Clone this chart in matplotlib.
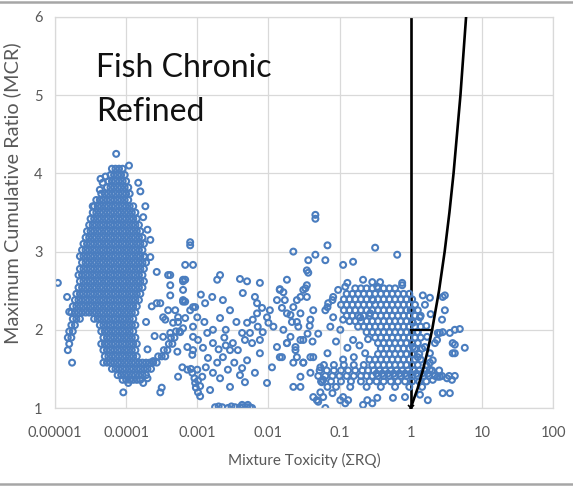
import matplotlib
matplotlib.use('Agg')

import matplotlib.pyplot as plt
from matplotlib.lines import Line2D
import numpy as np

plt.rcParams['font.family'] = ['Lato', 'DejaVu Sans']

# ---- data (x stored as log10 of mixture toxicity, y = MCR) ----

# dense cluster at very low toxicity: one row per MCR level
blob_row_mcr = [4.06, 3.98, 3.90, 3.82, 3.74, 3.66, 3.58, 3.50, 3.42, 3.34,
                3.26, 3.18, 3.10, 3.02, 2.94, 2.86, 2.78, 2.70, 2.62, 2.54,
                2.46, 2.38, 2.30, 2.22, 2.14, 2.06, 1.98, 1.90, 1.82, 1.74,
                1.66, 1.58, 1.50, 1.42, 1.36]
blob_row_lrq = [
    [-4.20, -4.15, -4.10, -4.05],
    [-4.22, -4.17, -4.12, -4.07, -4.02],
    [-4.25, -4.20, -4.15, -4.10, -4.05, -4.00],
    [-4.27, -4.22, -4.17, -4.12, -4.07, -4.02, -3.97],
    [-4.35, -4.30, -4.25, -4.20, -4.15, -4.10, -4.05, -4.00, -3.95],
    [-4.42, -4.37, -4.32, -4.27, -4.22, -4.17, -4.12, -4.07, -4.02, -3.97],
    [-4.45, -4.40, -4.35, -4.30, -4.25, -4.20, -4.15, -4.10, -4.05, -4.00, -3.95, -3.90],
    [-4.47, -4.42, -4.37, -4.32, -4.27, -4.22, -4.17, -4.12, -4.07, -4.02, -3.97, -3.92,
     -3.87],
    [-4.50, -4.45, -4.40, -4.35, -4.30, -4.25, -4.20, -4.15, -4.10, -4.05, -4.00, -3.95,
     -3.90, -3.85],
    [-4.52, -4.47, -4.42, -4.37, -4.32, -4.27, -4.22, -4.17, -4.12, -4.07, -4.02, -3.97,
     -3.92, -3.87, -3.82],
    [-4.55, -4.50, -4.45, -4.40, -4.35, -4.30, -4.25, -4.20, -4.15, -4.10, -4.05, -4.00,
     -3.95, -3.90, -3.85, -3.80],
    [-4.57, -4.52, -4.47, -4.42, -4.37, -4.32, -4.27, -4.22, -4.17, -4.12, -4.07, -4.02,
     -3.97, -3.92, -3.87, -3.82, -3.77],
    [-4.60, -4.55, -4.50, -4.45, -4.40, -4.35, -4.30, -4.25, -4.20, -4.15, -4.10, -4.05,
     -4.00, -3.95, -3.90, -3.85, -3.80, -3.75],
    [-4.62, -4.57, -4.52, -4.47, -4.42, -4.37, -4.32, -4.27, -4.22, -4.17, -4.12, -4.07,
     -4.02, -3.97, -3.92, -3.87, -3.82, -3.77],
    [-4.65, -4.60, -4.55, -4.50, -4.45, -4.40, -4.35, -4.30, -4.25, -4.20, -4.15, -4.10,
     -4.05, -4.00, -3.95, -3.90, -3.85, -3.80, -3.75],
    [-4.62, -4.57, -4.52, -4.47, -4.42, -4.37, -4.32, -4.27, -4.22, -4.17, -4.12, -4.07,
     -4.02, -3.97, -3.92, -3.87, -3.82, -3.77, -3.72],
    [-4.65, -4.60, -4.55, -4.50, -4.45, -4.40, -4.35, -4.30, -4.25, -4.20, -4.15, -4.10,
     -4.05, -4.00, -3.95, -3.90, -3.85, -3.80, -3.75],
    [-4.67, -4.62, -4.57, -4.52, -4.47, -4.42, -4.37, -4.32, -4.27, -4.22, -4.17, -4.12,
     -4.07, -4.02, -3.97, -3.92, -3.87, -3.82, -3.77],
    [-4.65, -4.60, -4.55, -4.50, -4.45, -4.40, -4.35, -4.30, -4.25, -4.20, -4.15, -4.10,
     -4.05, -4.00, -3.95, -3.90, -3.85, -3.80, -3.75],
    [-4.67, -4.62, -4.57, -4.52, -4.47, -4.42, -4.37, -4.32, -4.27, -4.22, -4.17, -4.12,
     -4.07, -4.02, -3.97, -3.92, -3.87, -3.82, -3.77],
    [-4.70, -4.65, -4.60, -4.55, -4.50, -4.45, -4.40, -4.35, -4.30, -4.25, -4.20, -4.15,
     -4.10, -4.05, -4.00, -3.95, -3.90, -3.85, -3.80],
    [-4.72, -4.67, -4.62, -4.57, -4.52, -4.47, -4.42, -4.37, -4.32, -4.27, -4.22, -4.17,
     -4.12, -4.07, -4.02, -3.97, -3.92, -3.87, -3.82],
    [-4.75, -4.70, -4.65, -4.60, -4.55, -4.50, -4.45, -4.40, -4.35, -4.30, -4.25, -4.20,
     -4.15, -4.10, -4.05, -4.00, -3.95, -3.90, -3.85],
    [-4.77, -4.72, -4.67, -4.62, -4.57, -4.52, -4.47, -4.42, -4.37, -4.32, -4.27, -4.22,
     -4.17, -4.12, -4.07, -4.02, -3.97, -3.92, -3.87],
    [-4.75, -4.70, -4.65, -4.45, -4.40, -4.35, -4.30, -4.25, -4.20, -4.15, -4.10, -4.05,
     -4.00, -3.95, -3.90],
    [-4.77, -4.72, -4.37, -4.32, -4.27, -4.22, -4.17, -4.12, -4.07, -4.02, -3.97, -3.92,
     -3.87],
    [-4.80, -4.75, -4.35, -4.30, -4.25, -4.20, -4.15, -4.10, -4.05, -4.00, -3.95, -3.90,
     -3.30, -3.25],
    [-4.82, -4.77, -4.32, -4.27, -4.22, -4.17, -4.12, -4.07, -4.02, -3.97, -3.92, -3.87,
     -3.37, -3.32],
    [-4.80, -4.35, -4.30, -4.25, -4.20, -4.15, -4.10, -4.05, -4.00, -3.95, -3.90, -3.85,
     -3.40, -3.35],
    [-4.82, -4.32, -4.27, -4.22, -4.17, -4.12, -4.07, -4.02, -3.97, -3.92, -3.87, -3.47,
     -3.42],
    [-4.30, -4.25, -4.20, -4.15, -4.10, -4.05, -4.00, -3.95, -3.90, -3.85, -3.55, -3.50,
     -3.45],
    [-4.32, -4.27, -4.22, -4.17, -4.12, -4.07, -4.02, -3.97, -3.92, -3.87, -3.82, -3.77,
     -3.72, -3.67, -3.62, -3.57],
    [-4.20, -4.15, -4.10, -4.05, -4.00, -3.95, -3.90, -3.85, -3.80, -3.75, -3.70, -3.65],
    [-4.12, -4.07, -4.02, -3.97, -3.92, -3.87, -3.82, -3.77, -3.72],
    [-4.05, -4.00, -3.95, -3.90, -3.85, -3.80],
]

# dense cluster near toxicity 0.1-1 (upper group and lower band)
right_row_mcr = [2.53, 2.46, 2.39, 2.32, 2.25, 2.18, 2.11, 2.04, 1.97, 1.90,
                 1.83, 1.76, 1.69, 1.62, 1.55, 1.48, 1.44, 1.41, 1.34, 1.27]
right_row_lrq = [
    [-0.78, -0.70, -0.62, -0.54, -0.46, -0.38, -0.30, -0.22],
    [-0.90, -0.82, -0.74, -0.66, -0.58, -0.50, -0.42, -0.34, -0.26, -0.18, -0.10, -0.02],
    [-0.94, -0.86, -0.78, -0.70, -0.62, -0.54, -0.46, -0.38, -0.30, -0.22, -0.14, -0.06,
     0.02],
    [-0.98, -0.90, -0.82, -0.74, -0.66, -0.58, -0.50, -0.42, -0.34, -0.26, -0.18, -0.10,
     -0.02, 0.06],
    [-0.94, -0.86, -0.78, -0.70, -0.62, -0.54, -0.46, -0.38, -0.30, -0.22, -0.14, -0.06,
     0.02, 0.10],
    [-0.90, -0.82, -0.74, -0.66, -0.58, -0.50, -0.42, -0.34, -0.26, -0.18, -0.10, -0.02,
     0.06, 0.14],
    [-0.86, -0.78, -0.70, -0.62, -0.54, -0.46, -0.38, -0.30, -0.22, -0.14, -0.06, 0.02,
     0.10],
    [-0.74, -0.66, -0.58, -0.50, -0.42, -0.34, -0.26, -0.18, -0.10, -0.02, 0.06, 0.14],
    [-0.62, -0.54, -0.46, -0.38, -0.30, -0.22, -0.14, -0.06, 0.02, 0.10],
    [-0.50, -0.42, -0.34, -0.26, -0.18, -0.10, -0.02, 0.06, 0.14],
    [-0.46, -0.38, -0.30, -0.22, -0.14, -0.06, 0.02, 0.10],
    [-0.42, -0.34, -0.26, -0.18, -0.10, -0.02, 0.06, 0.16],
    [-0.46, -0.38, -0.30, -0.22, -0.14, -0.06, 0.02, 0.12],
    [-0.58, -0.50, -0.42, -0.34, -0.26, -0.18, -0.10, -0.02, 0.06, 0.14],
    [-1.22, -1.08, -0.94, -0.80, -0.66, -0.54, -0.46, -0.38, -0.30, -0.22, -0.14, -0.06,
     0.02, 0.10, 0.22],
    [-1.28, -1.18, -1.08, -0.98, -0.88, -0.78, -0.68, -0.60, -0.52, -0.44, -0.36, -0.28,
     -0.20, -0.12, -0.04, 0.04, 0.12, 0.20, 0.30, 0.40],
    [-0.48, -0.40, -0.32, -0.24, -0.16, -0.08, 0.00, 0.08, 0.16, 0.24],
    [-1.30, -1.20, -1.10, -1.00, -0.90, -0.80, -0.70, -0.62, -0.54, -0.46, -0.38, -0.30,
     -0.22, -0.14, -0.06, 0.02, 0.10, 0.18, 0.26, 0.34, 0.44, 0.54, 0.62],
    [-1.26, -1.12, -0.98, -0.84, -0.70, -0.58, -0.48, -0.38, -0.28, -0.18, -0.08, 0.02,
     0.12, 0.22],
    [-1.05, -0.85, -0.62, -0.42, -0.22, -0.02, 0.16],
]

# loose points around the low-toxicity cluster
edge_points = [
    (-4.14, 4.25), (-4.36, 3.93), (-4.29, 3.96), (-4.33, 3.88), (-3.96, 4.10),
    (-3.83, 3.88), (-3.80, 3.77), (-4.37, 3.79), (-4.47, 3.58), (-3.73, 3.58),
    (-3.76, 3.44), (-3.70, 3.28), (-3.66, 3.15), (-3.74, 2.93), (-3.66, 2.93),
    (-3.57, 2.74), (-3.38, 2.70), (-4.96, 2.60), (-4.83, 2.42), (-4.80, 2.23),
    (-4.76, 1.58), (-3.38, 2.57), (-3.38, 2.44), (-3.20, 2.62), (-3.17, 2.36),
    (-3.52, 2.34), (-3.31, 2.25), (-3.48, 2.16), (-3.27, 2.10), (-3.97, 1.32),
    (-4.04, 1.20), (-3.76, 1.32), (-3.50, 1.26), (-3.52, 1.20), (-3.70, 1.38),
    (-3.62, 1.60), (-3.70, 1.75), (-3.60, 1.92), (-3.72, 2.10), (-3.64, 2.30),
]

# scattered points between 0.0001 and 0.1
mid_points = [
    (-3.41, 2.25), (-3.27, 2.16), (-3.20, 2.36), (-3.06, 2.29), (-3.45, 2.13),
    (-3.34, 2.09), (-3.20, 2.02), (-3.48, 1.91), (-3.38, 1.96), (-3.14, 1.78),
    (-3.28, 1.72), (-3.06, 1.74), (-3.21, 1.52), (-3.14, 1.49), (-3.00, 1.49),
    (-3.27, 1.40), (-3.06, 1.91), (-3.41, 2.70), (-3.20, 2.64), (-3.57, 2.34),
    (-3.20, 2.51), (-3.07, 1.45), (-3.04, 1.38), (-3.03, 1.32), (-3.02, 1.26),
    (-2.99, 1.20), (-2.96, 1.15), (-2.99, 1.35), (-2.96, 1.28), (-2.93, 1.40),
    (-3.09, 1.50), (-3.10, 3.12), (-3.10, 3.08), (-3.17, 2.83), (-3.06, 2.83),
    (-3.17, 2.64), (-3.20, 2.38), (-3.10, 2.25), (-3.17, 2.15), (-3.24, 1.97),
    (-3.03, 2.29), (-3.00, 2.16), (-3.06, 2.04), (-3.07, 1.68), (-2.99, 1.87),
    (-2.92, 1.77), (-2.86, 1.96), (-2.78, 2.00), (-2.79, 2.42), (-2.89, 2.34),
    (-2.64, 2.38), (-2.54, 2.25), (-2.68, 2.15), (-2.78, 1.83), (-2.85, 1.64),
    (-2.72, 1.58), (-2.64, 1.65), (-2.78, 1.45), (-2.68, 1.38), (-2.57, 1.49),
    (-2.82, 1.23), (-2.54, 1.27), (-2.50, 1.83), (-2.43, 1.74), (-2.54, 1.74),
    (-2.37, 1.96), (-2.33, 1.87), (-2.26, 1.96), (-2.30, 2.09), (-2.22, 2.13),
    (-2.16, 2.21), (-2.15, 2.04), (-2.23, 1.83), (-2.12, 1.87), (-2.08, 1.97),
    (-2.00, 2.09), (-2.02, 2.16), (-1.93, 2.04), (-2.12, 1.70), (-2.30, 1.61),
    (-2.37, 1.51), (-2.33, 1.33), (-2.19, 1.45), (-2.02, 1.32), (-1.95, 1.52),
    (-1.84, 1.65), (-1.88, 1.78), (-1.74, 1.83), (-1.69, 1.91), (-1.62, 1.78),
    (-1.55, 1.87), (-1.60, 1.65), (-1.51, 1.58), (-1.41, 1.65), (-1.81, 2.28),
    (-1.69, 2.19), (-1.60, 2.10), (-1.55, 2.42), (-1.48, 2.53), (-1.60, 2.38),
    (-1.84, 2.52), (-1.79, 2.48), (-1.74, 2.64), (-1.88, 2.38), (-1.98, 2.25),
    (-2.09, 2.28), (-2.19, 2.42), (-2.36, 2.47), (-2.12, 2.60), (-2.40, 2.65),
    (-2.30, 2.62), (-2.68, 2.70), (-2.72, 2.64), (-2.16, 2.34), (-1.65, 3.00),
    (-1.34, 3.47), (-1.34, 3.42), (-1.17, 3.08), (-1.34, 2.96), (-1.44, 2.89),
    (-1.20, 2.89), (-1.46, 2.76), (-1.44, 2.73), (-2.60, 2.00), (-2.45, 2.10),
    (-2.62, 1.90), (-2.70, 1.75), (-2.90, 2.10), (-2.95, 2.45), (-2.48, 1.58),
    (-2.88, 1.52), (-2.60, 1.80), (-2.40, 1.42), (-1.84, 2.51), (-1.77, 2.38),
    (-1.65, 2.29), (-1.74, 2.21), (-1.67, 2.10), (-1.55, 2.21), (-1.58, 2.04),
    (-1.79, 2.00), (-1.46, 2.42), (-1.51, 2.51), (-1.46, 2.57), (-1.37, 2.25),
    (-1.41, 2.13), (-1.74, 1.83), (-1.62, 1.74), (-1.51, 1.87), (-1.81, 1.65),
    (-1.65, 1.58), (-1.51, 1.58), (-1.37, 1.65), (-1.27, 1.52), (-1.41, 1.45),
    (-1.55, 1.40), (-1.23, 1.36), (-1.65, 1.27), (-1.17, 1.70), (-1.55, 1.27),
    (-1.45, 1.95), (-1.38, 1.85), (-1.30, 1.95), (-1.42, 2.05),
]

# points sitting on the MCR = 1 floor and just above it
low_points = [
    (-2.75, 1.01), (-2.65, 1.01), (-2.57, 1.00), (-2.47, 1.01), (-2.40, 1.01),
    (-2.36, 1.01), (-2.30, 1.01), (-2.26, 1.01), (-2.37, 1.04), (-2.29, 1.04),
    (-2.23, 1.00), (-2.70, 1.02), (-2.52, 1.02), (-1.27, 1.20), (-1.23, 1.14),
    (-1.32, 1.10), (-1.17, 1.27), (-1.25, 1.33), (-1.37, 1.14), (-1.10, 1.19),
    (-1.30, 1.08), (-0.99, 1.10), (-0.92, 1.06), (-0.95, 1.14), (-0.88, 1.10),
    (-1.20, 1.00), (-0.61, 1.10), (-0.54, 1.06), (-0.47, 1.13), (-0.67, 1.04),
    (-0.25, 1.13), (-0.08, 1.14), (0.13, 1.17), (0.24, 1.10), (0.45, 1.19),
    (0.55, 1.19),
]

# scattered points around the upper right group
upper_right_points = [
    (-1.20, 2.25), (-1.16, 2.34), (-1.09, 2.42), (-1.02, 2.51), (-0.92, 2.55),
    (-1.09, 2.16), (-0.95, 2.13), (-1.13, 2.04), (-0.99, 2.00), (-0.81, 1.87),
    (-0.89, 1.77), (-0.50, 3.05), (-0.19, 2.96), (-0.81, 2.87), (-0.67, 2.64),
    (-0.54, 2.61), (-0.43, 2.61), (-0.12, 2.60), (-0.95, 2.83), (-0.47, 2.55),
    (-0.89, 2.60), (-1.17, 2.29), (-1.10, 2.38), (-0.71, 2.16), (-0.53, 2.38),
    (-0.57, 2.21), (-0.72, 1.80), (-0.64, 1.70), (-0.80, 1.65), (-0.95, 1.62),
    (-1.05, 1.85), (-0.60, 1.88),
    (-0.12, 2.57), (0.17, 2.44), (0.27, 2.41), (0.45, 2.42), (0.48, 2.25),
    (0.44, 2.13), (0.38, 1.96), (0.45, 1.97), (0.62, 2.00), (0.69, 2.01),
    (0.59, 1.83), (0.76, 1.77), (0.59, 1.70), (0.34, 1.83), (0.27, 1.70),
    (0.31, 1.61), (0.27, 1.49), (0.38, 1.40), (0.51, 1.38), (0.58, 1.36),
    (0.03, 2.09), (0.09, 1.97), (0.03, 1.78), (0.10, 1.65), (0.23, 1.91),
    (0.13, 2.16), (0.00, 2.25), (0.20, 2.32), (0.41, 1.96), (0.37, 1.87),
    (0.27, 1.58), (0.41, 1.40), (0.31, 1.36), (0.48, 2.44), (0.55, 1.96),
    (0.62, 1.81), (0.62, 1.70), (0.22, 2.05), (0.28, 2.20), (0.20, 1.78),
]

# reference lines: MCR = 1 boundary, MCR = sum RQ (max RQ = 1), and the MCR = 2 step
boundary_rq = [1, 1]
boundary_mcr = [1, 6]
curve_rq = np.array([1.0, 1.25, 1.5, 1.75, 2.0, 2.5, 3.0, 3.5, 4.0, 5.0, 6.0, 6.5])
curve_mcr = curve_rq / 1.0
step_rq = [1, 2]
step_mcr = [2, 2]

x_ticks = [0.00001, 0.0001, 0.001, 0.01, 0.1, 1, 10, 100]
x_tick_labels = ['0.00001', '0.0001', '0.001', '0.01', '0.1', '1', '10', '100']
y_ticks = [1, 2, 3, 4, 5, 6]

# ---- assemble ----
lrq, mcr = [], []
for yy, row in zip(blob_row_mcr, blob_row_lrq):
    lrq += row
    mcr += [yy] * len(row)
for yy, row in zip(right_row_mcr, right_row_lrq):
    lrq += row
    mcr += [yy] * len(row)
for pts in (edge_points, mid_points, low_points, upper_right_points):
    lrq += [p[0] for p in pts]
    mcr += [p[1] for p in pts]
rq = 10.0 ** np.array(lrq)
mcr = np.array(mcr)

fig = plt.figure(figsize=(5.73, 4.87), dpi=100)
ax = fig.add_axes([55 / 573, 1 - 408 / 487, 498 / 573, 391 / 487])

blue = '#4a7dbf'
grey = '#d9d9d9'
txt = '#595959'

ax.plot(boundary_rq, boundary_mcr, color='black', lw=1.9, zorder=1)
ax.scatter(rq, mcr, s=18, facecolors='none', edgecolors=blue, linewidths=1.5, zorder=2)
ax.plot(curve_rq, curve_mcr, color='black', lw=1.9, zorder=3)
ax.plot(step_rq, step_mcr, color='black', lw=1.6, zorder=3)
ax.plot([1], [1], marker='x', color='black', ms=5, mew=1.2, zorder=4)

ax.set_xscale('log')
ax.set_xlim(0.00001, 100)
ax.set_ylim(1, 6)
ax.set_xticks(x_ticks)
ax.set_xticklabels(x_tick_labels)
ax.set_yticks(y_ticks)
ax.minorticks_off()
ax.grid(True, color=grey, lw=0.9)
ax.set_axisbelow(True)
for sp in ax.spines.values():
    sp.set_color(grey)
    sp.set_linewidth(0.9)
ax.tick_params(length=0, colors=txt, labelsize=10.5)
ax.tick_params(axis='x', pad=13)
ax.tick_params(axis='y', pad=9)

ax.set_xlabel('Mixture Toxicity (\u03a3RQ)', color=txt, fontsize=11, labelpad=9)
ylab = ax.set_ylabel('Maximum Cumulative Ratio (MCR)', color=txt, fontsize=12)
# size the axis title so it spans about the same height as in the original chart
fig.canvas.draw()
h = ylab.get_window_extent().height
ylab.set_fontsize(12 * 300 / h)
ax.yaxis.set_label_coords(-0.068, 0.55)

fig.text(96 / 573, 1 - 77 / 487, 'Fish Chronic', fontsize=23, color='#111111', va='baseline')
fig.text(96 / 573, 1 - 121 / 487, 'Refined', fontsize=23, color='#111111', va='baseline')

# frame lines of the original chart box
fig.add_artist(Line2D([0, 1], [1 - 1.5 / 487, 1 - 1.5 / 487], color='#a6a6a6', lw=1.8))
fig.add_artist(Line2D([0, 1], [1 - 484 / 487, 1 - 484 / 487], color='#a6a6a6', lw=1.8))

fig.savefig('out.png', dpi=100)
